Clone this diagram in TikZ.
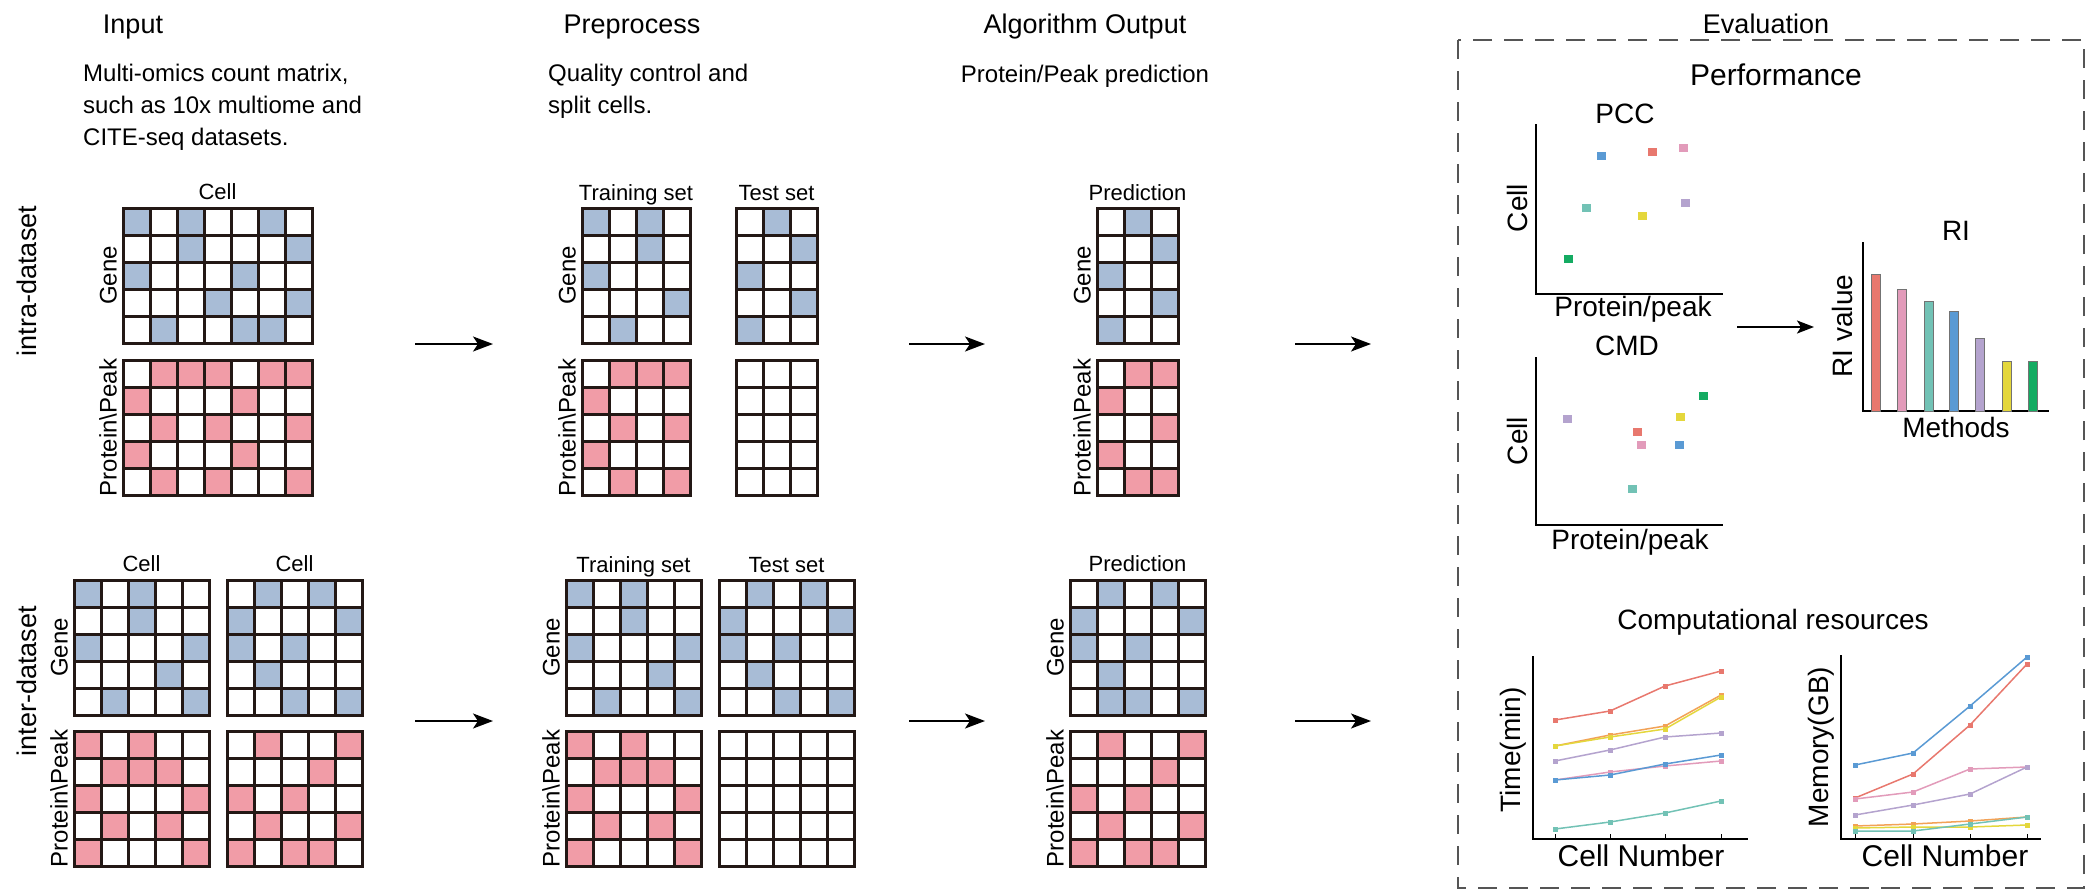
\documentclass[tikz,border=0pt]{standalone}
\usepackage{fontspec}
\setmainfont{Liberation Sans}
\usetikzlibrary{arrows.meta}
\definecolor{cellblue}{HTML}{A8BCD6}
\definecolor{cellpink}{HTML}{F19CA7}
\definecolor{gridgray}{HTML}{231815}
\definecolor{boxgray}{HTML}{555555}
\definecolor{mred}{HTML}{E8786E}
\definecolor{mpink}{HTML}{E29BBA}
\definecolor{mteal}{HTML}{72C2B5}
\definecolor{mblue}{HTML}{5A9AD4}
\definecolor{mpurple}{HTML}{B4A3CE}
\definecolor{myellow}{HTML}{E4D73C}
\definecolor{mgreen}{HTML}{14AB62}
\definecolor{morange}{HTML}{F2A257}

\newcommand{\cellgrid}[5]{%
	\foreach \c/\r in {#5} {\fill[#4] ({#1+27*(\c-1)},{#2+27*(\r-1)}) rectangle ++(27,27);}
	\foreach \i in {0,...,#3} {\draw[gridline] ({#1+27*\i},#2) -- ++(0,135);}
	\foreach \j in {0,...,5} {\draw[gridline] (#1,{#2+27*\j}) -- ++({27*#3},0);}
}

\begin{document}
\begin{tikzpicture}[x=1pt,y=-1pt,
	gridline/.style={gridgray,line width=3,line cap=rect},
	title/.style={font=\fontsize{27}{32}\selectfont,anchor=base,inner sep=0},
	body/.style={font=\fontsize{24}{32}\selectfont,align=left,anchor=north west,inner sep=0},
	bodyc/.style={font=\fontsize{24}{32}\selectfont,anchor=base,inner sep=0},
	lab/.style={font=\fontsize{22}{26}\selectfont,anchor=base,inner sep=0},
	side/.style={font=\fontsize{24}{28}\selectfont,rotate=90,anchor=base,inner sep=0},
	rowlab/.style={font=\fontsize{27}{32}\selectfont,rotate=90,anchor=base,inner sep=0},
	evlab/.style={font=\fontsize{28}{32}\selectfont,anchor=base,inner sep=0},
	evside/.style={font=\fontsize{28}{32}\selectfont,rotate=90,anchor=base,inner sep=0},
	flow/.style={line width=2,-{Stealth[length=20pt,width=15pt,inset=5pt]}},
	axis/.style={line width=2,black},
	evalbox/.style={boxgray,line width=2.5,dash pattern=on 19pt off 12pt}]
	\useasboundingbox (0,0) rectangle (2087,891);

	\node[title] (tin) at (133,34) {Input};
	\node[title] (tpre) at (632,34) {Preprocess};
	\node[title] (talg) at (1085,34) {Algorithm Output};
	\node[title] (teva) at (1766,34) {Evaluation};
	\node[body] (din) at (83,64) {Multi-omics count matrix,\\such as 10x multiome and\\CITE-seq datasets.};
	\node[body] (dpre) at (548,64) {Quality control and\\split cells.};
	\node[bodyc] (dalg) at (1085,82) {Protein/Peak prediction};
	\node[rowlab] (rintra) at (36,281) {intra-dataset};
	\node[rowlab] (rinter) at (36,681) {inter-dataset};

	\cellgrid{123}{208}{7}{cellblue}{1/1,3/1,6/1,3/2,7/2,1/3,5/3,4/4,7/4,2/5,5/5,6/5}
	\cellgrid{123}{360}{7}{cellpink}{2/1,3/1,4/1,6/1,7/1,1/2,5/2,2/3,4/3,7/3,1/4,5/4,2/5,4/5,7/5}
	\node[lab] (icell) at (217.5,199) {Cell};
	\node[side] (igene) at (116.5,275.5) {Gene};
	\node[side] (ipeak) at (116.5,427.5) {Protein\textbackslash Peak};

	\cellgrid{582}{208}{4}{cellblue}{1/1,3/1,3/2,1/3,4/4,2/5}
	\cellgrid{736}{208}{3}{cellblue}{2/1,3/2,1/3,3/4,1/5}
	\cellgrid{582}{360}{4}{cellpink}{2/1,3/1,4/1,1/2,2/3,4/3,1/4,2/5,4/5}
	\cellgrid{736}{360}{3}{white}{1/1}
	\node[lab] (itrain) at (636,200) {Training set};
	\node[lab] (itest) at (776.5,200) {Test set};
	\node[side] (pgene) at (575.5,275.5) {Gene};
	\node[side] (ppeak) at (575.5,427.5) {Protein\textbackslash Peak};

	\cellgrid{1097}{208}{3}{cellblue}{2/1,3/2,1/3,3/4,1/5}
	\cellgrid{1097}{360}{3}{cellpink}{2/1,3/1,1/2,3/3,1/4,2/5,3/5}
	\node[lab] (ipred) at (1137.5,200) {Prediction};
	\node[side] (agene) at (1090.5,275.5) {Gene};
	\node[side] (apeak) at (1090.5,427.5) {Protein\textbackslash Peak};

	\cellgrid{74}{580}{5}{cellblue}{1/1,3/1,3/2,1/3,5/3,4/4,2/5,5/5}
	\cellgrid{227}{580}{5}{cellblue}{2/1,4/1,1/2,5/2,1/3,3/3,2/4,3/5,5/5}
	\cellgrid{74}{731}{5}{cellpink}{1/1,3/1,2/2,3/2,4/2,1/3,5/3,2/4,4/4,1/5,5/5}
	\cellgrid{227}{731}{5}{cellpink}{2/1,5/1,4/2,1/3,3/3,2/4,5/4,1/5,3/5,4/5}
	\node[lab] (ecell1) at (141.5,571) {Cell};
	\node[lab] (ecell2) at (294.5,571) {Cell};
	\node[side] (egene) at (67.5,647.5) {Gene};
	\node[side] (epeak) at (67.5,798.5) {Protein\textbackslash Peak};

	\cellgrid{566}{580}{5}{cellblue}{1/1,3/1,3/2,1/3,5/3,4/4,2/5,5/5}
	\cellgrid{719}{580}{5}{cellblue}{2/1,4/1,1/2,5/2,1/3,3/3,2/4,3/5,5/5}
	\cellgrid{566}{731}{5}{cellpink}{1/1,3/1,2/2,3/2,4/2,1/3,5/3,2/4,4/4,1/5,5/5}
	\cellgrid{719}{731}{5}{white}{1/1}
	\node[lab] (etrain) at (633.5,572) {Training set};
	\node[lab] (etest) at (786.5,572) {Test set};
	\node[side] (qgene) at (559.5,647.5) {Gene};
	\node[side] (qpeak) at (559.5,798.5) {Protein\textbackslash Peak};

	\cellgrid{1070}{580}{5}{cellblue}{2/1,4/1,1/2,5/2,1/3,3/3,2/4,2/5,3/5,5/5}
	\cellgrid{1070}{731}{5}{cellpink}{2/1,5/1,4/2,1/3,3/3,2/4,5/4,1/5,3/5,4/5}
	\node[lab] (epred) at (1137.5,571) {Prediction};
	\node[side] (bgene) at (1063.5,647.5) {Gene};
	\node[side] (bpeak) at (1063.5,798.5) {Protein\textbackslash Peak};

	\coordinate (a1s) at (415,344);
	\coordinate (a1e) at (493,344);
	\coordinate (a2s) at (909,344);
	\coordinate (a2e) at (985,344);
	\coordinate (a3s) at (1295,344);
	\coordinate (a3e) at (1371,344);
	\coordinate (b1s) at (415,721);
	\coordinate (b1e) at (493,721);
	\coordinate (b2s) at (909,721);
	\coordinate (b2e) at (985,721);
	\coordinate (b3s) at (1295,721);
	\coordinate (b3e) at (1371,721);
	\foreach \s/\e in {a1s/a1e,a2s/a2e,a3s/a3e,b1s/b1e,b2s/b2e,b3s/b3e}
		\draw[flow] (\s) -- (\e);

	\draw[evalbox] (1458,40) rectangle (2084,888);
	\node[font=\fontsize{30}{34}\selectfont,anchor=base,inner sep=0] (perf) at (1776,85) {Performance};

	\node[evlab] (pcc) at (1625,123) {PCC};
	\draw[axis] (1536,124) -- (1536,294) -- (1723,294);
	\node[evside] (pccy) at (1527,208) {Cell};
	\node[evlab] (pccx) at (1633,316) {Protein/peak};
	\foreach \col/\px/\py in {mblue/1601/156,mred/1652/152,mpink/1683/148,mteal/1586/208,myellow/1642/216,mpurple/1685/203,mgreen/1568/259}
		\fill[\col] (\px-4.5,\py-4) rectangle ++(9,8);

	\node[evlab] (cmd) at (1627,355) {CMD};
	\draw[axis] (1536,357) -- (1536,525) -- (1723,525);
	\node[evside] (cmdy) at (1527,441) {Cell};
	\node[evlab] (cmdx) at (1630,549) {Protein/peak};
	\foreach \col/\px/\py in {mpurple/1567/419,mred/1637/432,mpink/1641/445,mteal/1632/489,myellow/1680/417,mblue/1679/445,mgreen/1703/396}
		\fill[\col] (\px-4.5,\py-4) rectangle ++(9,8);

	\coordinate (e1s) at (1737,327);
	\coordinate (e1e) at (1814,327);
	\draw[line width=2,-{Stealth[length=17pt,width=13pt,inset=4pt]}] (e1s) -- (e1e);

	\node[evlab] (ri) at (1956,240) {RI};
	\draw[axis] (1863,242) -- (1863,411) -- (2049,411);
	\node[evside] (riy) at (1852,326) {RI value};
	\node[evlab] (rix) at (1956,437) {Methods};
	\foreach \col/\bx/\bt in {mred/1876/274,mpink/1902/289,mteal/1929/301,mblue/1954/311,mpurple/1980/338,myellow/2007/361,mgreen/2033/361}
		\filldraw[fill=\col,draw=black!55,line width=1] (\bx-4.5,411) rectangle (\bx+4.5,\bt);

	\node[evlab] (comp) at (1773,629) {Computational resources};
	\draw[axis] (1533,656) -- (1533,839) -- (1748,839);
	\node[evside] (timey) at (1520,750) {Time(min)};
	\node[font=\fontsize{30}{34}\selectfont,anchor=base,inner sep=0] (timex) at (1641,866) {Cell Number};
	\foreach \tx in {1555,1610,1665,1721}
		\draw[line width=1] (\tx,839) -- (\tx,834);
	\foreach \col/\a/\b/\c/\d in {mred/720/711/686/671,morange/746/735/726/695,myellow/746/737/729/697,mpurple/761/750/737/733,mpink/780/772/766/761,mblue/780/775/764/755,mteal/829/822/813/801} {
		\draw[\col,line width=1.5] (1555,\a) -- (1610,\b) -- (1665,\c) -- (1721,\d);
		\foreach \px/\py in {1555/\a,1610/\b,1665/\c,1721/\d}
			\fill[\col] (\px-2.5,\py-2.5) rectangle ++(5,5);
	}

	\draw[axis] (1841,655) -- (1841,839) -- (2041,839);
	\node[evside] (memy) at (1828,747) {Memory(GB)};
	\node[font=\fontsize{30}{34}\selectfont,anchor=base,inner sep=0] (memx) at (1945,866) {Cell Number};
	\foreach \tx in {1855,1913,1970,2027}
		\draw[line width=1] (\tx,839) -- (\tx,834);
	\foreach \col/\a/\b/\c/\d in {mblue/765/753/706/657,mred/798/774/725/664,mpink/799/792/769/767,mpurple/815/805/794/767,morange/826/824/821/817,myellow/828/827/827/825,mteal/831/831/824/817} {
		\draw[\col,line width=1.5] (1855,\a) -- (1913,\b) -- (1970,\c) -- (2027,\d);
		\foreach \px/\py in {1855/\a,1913/\b,1970/\c,2027/\d}
			\fill[\col] (\px-2.5,\py-2.5) rectangle ++(5,5);
	}
\end{tikzpicture}
\end{document}
